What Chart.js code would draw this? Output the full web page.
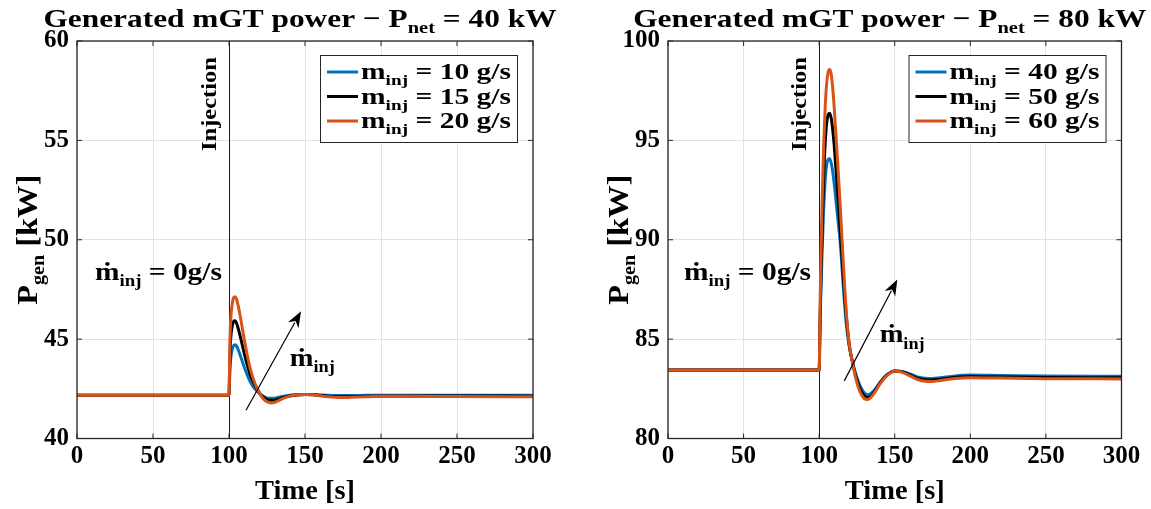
<!DOCTYPE html>
<html><head><meta charset="utf-8">
<script src="https://cdn.jsdelivr.net/npm/chart.js@4/dist/chart.umd.min.js"></script>
<style>
html,body{margin:0;padding:0;background:#fff;}
#wrap{position:relative;width:1151px;height:509px;overflow:hidden;background:#fff;}
canvas{position:absolute;top:0;}
</style></head><body>
<div id="wrap">
<canvas id="c1" width="576" height="509" style="left:0px"></canvas>
<canvas id="c2" width="575" height="509" style="left:576px"></canvas>
</div>
<script>
// ---------- DATA ----------
const xTicks = [0, 50, 100, 150, 200, 250, 300];
const yTicksLeft = [40, 45, 50, 55, 60];
const yTicksRight = [80, 85, 90, 95, 100];
const injectionTime = 100;

const timeLeft = [0, 100, 100.5, 101, 102, 103, 104, 105, 106, 108, 110, 112, 114, 116, 118, 120, 122, 124, 126, 128, 130, 133, 136, 140, 145, 150, 155, 160, 165, 170, 175, 180, 190, 200, 220, 250, 300];
const pLeft10 = [42.18, 42.18, 43.2, 43.9, 44.45, 44.67, 44.72, 44.65, 44.48, 44.05, 43.6, 43.2, 42.85, 42.6, 42.42, 42.27, 42.15, 42.07, 42.03, 42.02, 42.03, 42.08, 42.13, 42.18, 42.21, 42.22, 42.21, 42.19, 42.17, 42.16, 42.16, 42.16, 42.17, 42.18, 42.18, 42.18, 42.18];
const pLeft15 = [42.18, 42.18, 43.8, 44.9, 45.6, 45.88, 45.92, 45.8, 45.55, 44.95, 44.3, 43.7, 43.2, 42.85, 42.55, 42.3, 42.12, 42.0, 41.94, 41.92, 41.93, 41.99, 42.07, 42.14, 42.19, 42.21, 42.2, 42.17, 42.13, 42.11, 42.1, 42.11, 42.13, 42.14, 42.14, 42.14, 42.13];
const pLeft20 = [42.18, 42.18, 44.5, 45.8, 46.7, 47.08, 47.13, 47.0, 46.7, 45.9, 45.0, 44.2, 43.5, 43.0, 42.6, 42.3, 42.05, 41.9, 41.82, 41.79, 41.82, 41.92, 42.03, 42.13, 42.2, 42.22, 42.2, 42.15, 42.1, 42.07, 42.06, 42.07, 42.1, 42.12, 42.12, 42.11, 42.1];

const timeRight = [0, 100, 100.5, 101, 102, 103, 104, 105, 106, 107, 108, 109, 110, 112, 114, 116, 118, 120, 122, 124, 126, 128, 130, 132, 134, 137, 140, 145, 150, 155, 160, 165, 170, 175, 180, 190, 200, 220, 250, 300];
const pRight40 = [83.45, 83.45, 85.2, 87.0, 89.5, 91.6, 93.0, 93.8, 94.05, 94.08, 93.85, 93.4, 92.8, 91.3, 89.8, 87.6, 85.7, 84.6, 83.88, 83.3, 82.85, 82.5, 82.28, 82.2, 82.25, 82.48, 82.8, 83.22, 83.4, 83.37, 83.25, 83.1, 83.03, 83.02, 83.06, 83.15, 83.19, 83.17, 83.14, 83.13];
const pRight50 = [83.45, 83.45, 85.5, 87.6, 90.6, 93.2, 94.9, 95.9, 96.3, 96.37, 96.1, 95.5, 94.7, 92.6, 90.4, 88.1, 86.1, 84.65, 83.85, 83.2, 82.7, 82.35, 82.13, 82.06, 82.12, 82.4, 82.76, 83.2, 83.4, 83.35, 83.2, 83.03, 82.95, 82.94, 82.98, 83.08, 83.12, 83.1, 83.07, 83.06];
const pRight60 = [83.45, 83.45, 86.0, 88.5, 92.0, 94.8, 96.7, 97.9, 98.45, 98.56, 98.3, 97.6, 96.6, 94.2, 91.6, 88.8, 86.3, 84.7, 83.85, 83.1, 82.55, 82.2, 82.0, 81.96, 82.05, 82.35, 82.72, 83.18, 83.4, 83.33, 83.15, 82.97, 82.88, 82.87, 82.92, 83.02, 83.06, 83.04, 83.01, 83.0];

const flowsLeft = ['10', '15', '20'];
const flowsRight = ['40', '50', '60'];
const seriesColors = ['#0072BD', '#000000', '#D95319'];
const titleLeft = ['Generated mGT power − P', 'net', ' = 40 kW'];
const titleRight = ['Generated mGT power − P', 'net', ' = 80 kW'];

// ---------- helpers ----------
const FAM = "'Liberation Serif','DejaVu Serif',serif";
function fnt(size){ return 'bold ' + size + 'px ' + FAM; }
function richWidth(ctx, parts){ let w=0; for(const p of parts){ ctx.font=fnt(p.s); w+=ctx.measureText(p.t).width; } return w; }
function drawRich(ctx, parts, x, y, align, targetW, rot){
  ctx.save();
  ctx.translate(x, y);
  if (rot) ctx.rotate(rot);
  const w = richWidth(ctx, parts);
  const sx = targetW ? targetW / w : 1;
  ctx.scale(sx, 1);
  let cx = align === 'center' ? -w/2 : (align === 'right' ? -w : 0);
  ctx.textAlign = 'left'; ctx.textBaseline = 'alphabetic'; ctx.fillStyle = '#000';
  for (const p of parts){ ctx.font = fnt(p.s); ctx.fillText(p.t, cx, p.dy || 0); cx += ctx.measureText(p.t).width; }
  ctx.restore();
}
function mInj(big, small){ return [{t:'m', s:big}, {t:'inj', s:small, dy: small*0.4}]; }
function mDotInj(big, small){ return [{t:'\u1E41', s:big}, {t:'inj', s:small, dy: small*0.4}]; }

const overlay = {
  id: 'overlay',
  beforeDatasetsDraw(chart){
    const {ctx, chartArea:a, scales:{x}} = chart;
    const px = Math.round(x.getPixelForValue(injectionTime)) + 0.5;
    ctx.save(); ctx.strokeStyle = '#1a1a1a'; ctx.lineWidth = 1;
    ctx.beginPath(); ctx.moveTo(px, a.top); ctx.lineTo(px, a.bottom); ctx.stroke(); ctx.restore();
  },
  afterDatasetsDraw(chart){
    const {ctx, chartArea:a, scales:{x, y}} = chart;
    const c = chart.options.plugins.overlay;
    ctx.save();
    // box + inner ticks
    ctx.strokeStyle = '#262626'; ctx.lineWidth = 1.3;
    ctx.strokeRect(a.left, a.top, a.right - a.left, a.bottom - a.top);
    ctx.lineWidth = 1;
    ctx.beginPath();
    for (const v of xTicks){ const p = x.getPixelForValue(v); ctx.moveTo(p, a.bottom); ctx.lineTo(p, a.bottom - 5); ctx.moveTo(p, a.top); ctx.lineTo(p, a.top + 5); }
    for (const v of c.yTicks){ const p = y.getPixelForValue(v); ctx.moveTo(a.left, p); ctx.lineTo(a.left + 5, p); ctx.moveTo(a.right, p); ctx.lineTo(a.right - 5, p); }
    ctx.stroke();
    // Injection text
    const ix = x.getPixelForValue(injectionTime);
    drawRich(ctx, [{t:'Injection', s:22}], ix - 13, a.top + 110, 'left', 94, -Math.PI/2);
    // zero label
    drawRich(ctx, mDotInj(25, 16).concat([{t:' = 0g/s', s:25}]), x.getPixelForValue(c.zero[0]), y.getPixelForValue(c.zero[1]), 'left', 127);
    // arrow
    const x0 = x.getPixelForValue(c.arrow[0]), y0 = y.getPixelForValue(c.arrow[1]);
    const x1 = x.getPixelForValue(c.arrow[2]), y1 = y.getPixelForValue(c.arrow[3]);
    const ang = Math.atan2(y1 - y0, x1 - x0), L = 16, W = 6;
    ctx.strokeStyle = '#000'; ctx.lineWidth = 1.2;
    ctx.beginPath(); ctx.moveTo(x0, y0); ctx.lineTo(x1 - L*0.8*Math.cos(ang), y1 - L*0.8*Math.sin(ang)); ctx.stroke();
    ctx.fillStyle = '#000';
    ctx.beginPath(); ctx.moveTo(x1, y1);
    ctx.lineTo(x1 - L*Math.cos(ang) + W*Math.sin(ang), y1 - L*Math.sin(ang) - W*Math.cos(ang));
    ctx.lineTo(x1 - L*0.7*Math.cos(ang), y1 - L*0.7*Math.sin(ang));
    ctx.lineTo(x1 - L*Math.cos(ang) - W*Math.sin(ang), y1 - L*Math.sin(ang) + W*Math.cos(ang));
    ctx.closePath(); ctx.fill();
    drawRich(ctx, mDotInj(25, 16), x.getPixelForValue(c.mlabel[0]), y.getPixelForValue(c.mlabel[1]), 'left', 45);
    // legend
    const lx = a.right - 16 - 197, ly = a.top + 14;
    ctx.fillStyle = '#fff'; ctx.fillRect(lx, ly, 197, 87);
    ctx.strokeStyle = '#262626'; ctx.lineWidth = 1; ctx.strokeRect(lx + 0.5, ly + 0.5, 197, 87);
    chart.data.datasets.forEach((ds, i) => {
      const ry = ly + 17 + i * 24.5;
      ctx.strokeStyle = ds.borderColor; ctx.lineWidth = 3;
      ctx.beginPath(); ctx.moveTo(lx + 7, ry); ctx.lineTo(lx + 38, ry); ctx.stroke();
      drawRich(ctx, mInj(23, 15).concat([{t:' = ' + c.flows[i] + ' g/s', s:23}]), lx + 41, ry + 7, 'left', 150);
    });
    // titles
    const cxm = (a.left + a.right) / 2;
    drawRich(ctx, [{t:c.title[0], s:26}, {t:c.title[1], s:17, dy:6}, {t:c.title[2], s:26}], cxm - 5, 27, 'center', 513);
    drawRich(ctx, [{t:'Time [s]', s:28}], cxm, 499, 'center', 100);
    drawRich(ctx, [{t:'P', s:29}, {t:'gen', s:18, dy:7}, {t:' [kW]', s:29}], c.ytx, (a.top + a.bottom)/2, 'center', 130, -Math.PI/2);
    ctx.restore();
  }
};

function makeChart(id, time, series, flows, yMin, yMax, yTicks, leftW, rightPad, extra){
  const tickFont = {family: FAM, size: 25, weight: 'bold'};
  return new Chart(document.getElementById(id), {
    type: 'line',
    data: { datasets: series.map((s, i) => ({
      label: 'm_inj = ' + flows[i] + ' g/s',
      data: time.map((t, k) => ({x: t, y: s[k]})),
      borderColor: seriesColors[i], backgroundColor: seriesColors[i],
      borderWidth: 3, pointRadius: 0, fill: false, cubicInterpolationMode: 'monotone', order: 2 - i
    })) },
    options: {
      responsive: false, animation: false, devicePixelRatio: 1,
      layout: { padding: { left: 0, top: 41, right: rightPad, bottom: 0 } },
      plugins: { legend: {display: false}, tooltip: {enabled: false}, title: {display: false},
        overlay: Object.assign({yTicks: yTicks, flows: flows}, extra) },
      scales: {
        x: { type: 'linear', min: 0, max: 300,
          afterBuildTicks: s => { s.ticks = xTicks.map(v => ({value: v})); },
          afterFit: s => { s.height = 70.5; },
          ticks: { font: tickFont, color: '#000', padding: 3, maxRotation: 0, autoSkip: false },
          grid: { color: '#e2e2e2', drawTicks: false }, border: { display: false } },
        y: { type: 'linear', min: yMin, max: yMax,
          afterBuildTicks: s => { s.ticks = yTicks.map(v => ({value: v})); },
          afterFit: s => { s.width = leftW; },
          ticks: { font: tickFont, color: '#000', padding: 8, autoSkip: false },
          grid: { color: '#e2e2e2', drawTicks: false }, border: { display: false } }
      }
    },
    plugins: [overlay]
  });
}

makeChart('c1', timeLeft, [pLeft10, pLeft15, pLeft20], flowsLeft, 40, 60, yTicksLeft, 77, 43,
  { title: titleLeft, zero: [11.8, 48.0], arrow: [111.2, 41.42, 147.4, 46.4], mlabel: [140, 43.65], ytx: 37 });
makeChart('c2', timeRight, [pRight40, pRight50, pRight60], flowsRight, 80, 100, yTicksRight, 92, 29.5,
  { title: titleRight, zero: [10.6, 88.0], arrow: [116.6, 82.9, 151.7, 88.0], mlabel: [140, 84.85], ytx: 52 });
</script>
</body></html>
